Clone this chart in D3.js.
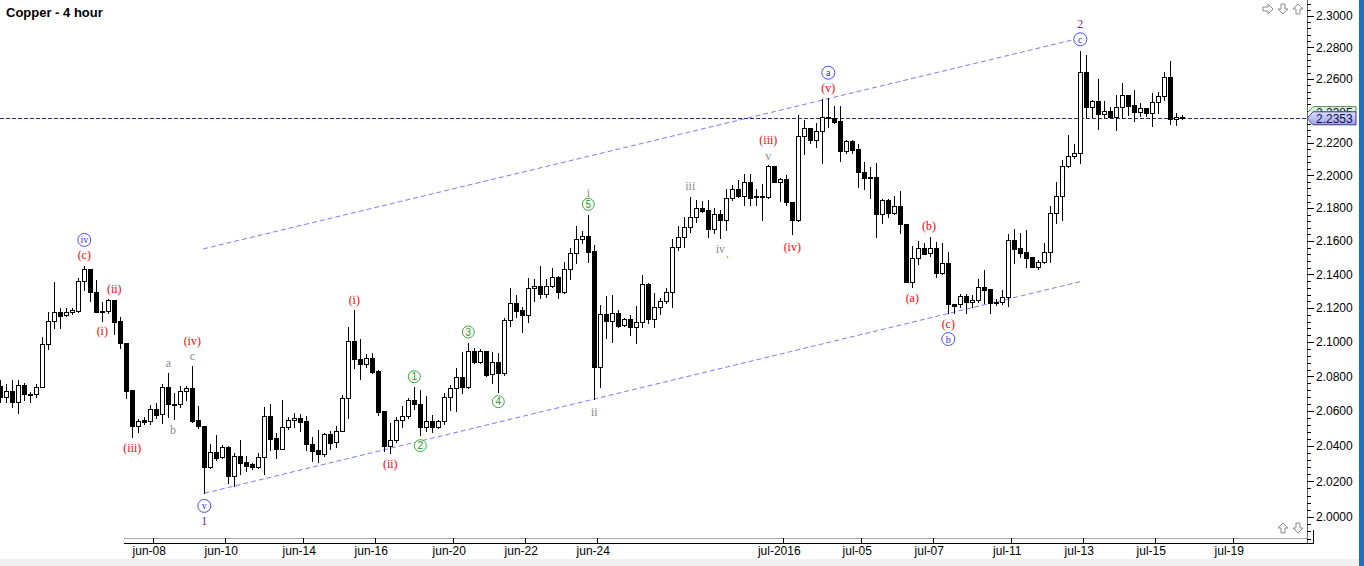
<!DOCTYPE html>
<html><head><meta charset="utf-8">
<script src="https://cdn.jsdelivr.net/npm/d3@7"></script>
<style>html,body{margin:0;padding:0;background:#fff;overflow:hidden}</style>
</head><body>
<svg id="chart" width="1364" height="566"></svg>
<script>
// ---- data (4-hour bars) ----
const open  = [2.0746,2.0683,2.0716,2.0654,2.0750,2.0697,2.0697,2.0737,2.0987,2.1124,2.1175,2.1157,2.1175,2.1185,2.1361,2.1431,2.1294,2.1183,2.1183,2.1248,2.1124,2.0993,2.0721,2.0516,2.0549,2.0541,2.0611,2.0581,2.0737,2.0643,2.0639,2.0717,2.0731,2.0549,2.0514,2.0283,2.0364,2.0336,2.0393,2.0232,2.0344,2.0309,2.0297,2.0279,2.0336,2.0571,2.0446,2.0381,2.0509,2.0547,2.0558,2.0543,2.0411,2.0377,2.0352,2.0467,2.0421,2.0488,2.0673,2.1006,2.0899,2.0870,2.0905,2.0831,2.0600,2.0402,2.0432,2.0547,2.0571,2.0664,2.0641,2.0511,2.0543,2.0507,2.0543,2.0679,2.0731,2.0798,2.0740,2.0950,2.0886,2.0950,2.0812,2.0886,2.0821,2.1130,2.1229,2.1189,2.1159,2.1318,2.1333,2.1282,2.1333,2.1383,2.1298,2.1431,2.1527,2.1611,2.1631,2.1541,2.0856,2.1164,2.1126,2.1170,2.1099,2.1134,2.1087,2.1120,2.1342,2.1134,2.1205,2.1244,2.1294,2.1563,2.1622,2.1684,2.1748,2.1799,2.1788,2.1672,2.1762,2.1727,2.1863,2.1915,2.1876,2.1958,2.1875,2.1873,2.1869,2.2057,2.1961,2.1978,2.1836,2.1727,2.2245,2.2291,2.2218,2.2274,2.2355,2.2353,2.2334,2.2153,2.2212,2.2161,2.2019,2.1988,2.1988,2.1762,2.1849,2.1772,2.1812,2.1702,2.1357,2.1496,2.1557,2.1527,2.1557,2.1407,2.1467,2.1223,2.1223,2.1274,2.1234,2.1248,2.1327,2.1312,2.1238,2.1238,2.1268,2.1607,2.1557,2.1533,2.1504,2.1443,2.1473,2.1533,2.1768,2.1873,2.2057,2.2121,2.2136,2.2642,2.2425,2.2461,2.2378,2.2400,2.2364,2.2422,2.2497,2.2436,2.2395,2.2416,2.2384,2.2452,2.2491,2.2610,2.2347,2.2361];
const high  = [2.0779,2.0755,2.0779,2.0779,2.0760,2.0712,2.0755,2.1032,2.1179,2.1355,2.1199,2.1199,2.1202,2.1377,2.1451,2.1431,2.1367,2.1238,2.1254,2.1248,2.1146,2.0993,2.0721,2.0554,2.0568,2.0635,2.0648,2.0757,2.0821,2.0706,2.0746,2.0746,2.0862,2.0631,2.0514,2.0411,2.0462,2.0406,2.0402,2.0359,2.0434,2.0344,2.0302,2.0362,2.0625,2.0639,2.0472,2.0664,2.0568,2.0587,2.0583,2.0571,2.0449,2.0494,2.0472,2.0488,2.0514,2.0692,2.1091,2.1189,2.1016,2.0930,2.0934,2.0837,2.0600,2.0533,2.0568,2.0629,2.0673,2.0737,2.0721,2.0687,2.0577,2.0549,2.0702,2.0750,2.0847,2.0944,2.0993,2.0964,2.0958,2.0950,2.0944,2.0934,2.1140,2.1318,2.1279,2.1209,2.1377,2.1371,2.1451,2.1371,2.1441,2.1391,2.1476,2.1557,2.1689,2.1661,2.1758,2.1576,2.1219,2.1273,2.1277,2.1189,2.1140,2.1160,2.1212,2.1397,2.1348,2.1288,2.1262,2.1318,2.1611,2.1689,2.1748,2.1870,2.1849,2.1843,2.1849,2.1799,2.1788,2.1915,2.1941,2.1971,2.2009,2.2009,2.1918,2.1949,2.2063,2.2057,2.1982,2.2003,2.1836,2.2374,2.2344,2.2291,2.2326,2.2473,2.2479,2.2431,2.2431,2.2218,2.2218,2.2193,2.2084,2.2053,2.2078,2.1853,2.1853,2.1874,2.1904,2.1702,2.1572,2.1601,2.1591,2.1627,2.1597,2.1591,2.1537,2.1223,2.1284,2.1282,2.1279,2.1373,2.1427,2.1312,2.1252,2.1308,2.1643,2.1671,2.1647,2.1667,2.1504,2.1486,2.1587,2.1812,2.1958,2.2094,2.2252,2.2193,2.2774,2.2752,2.2467,2.2600,2.2461,2.2426,2.2497,2.2572,2.2497,2.2528,2.2447,2.2416,2.2509,2.2519,2.2642,2.2712,2.2388,2.2374];
const low   = [2.0654,2.0654,2.0625,2.0587,2.0664,2.0654,2.0683,2.0737,2.0958,2.1081,2.1085,2.1155,2.1164,2.1179,2.1308,2.1244,2.1179,2.1126,2.1169,2.1046,2.0964,2.0673,2.0450,2.0482,2.0526,2.0526,2.0558,2.0534,2.0568,2.0554,2.0625,2.0664,2.0537,2.0501,2.0133,2.0277,2.0320,2.0334,2.0189,2.0176,2.0241,2.0260,2.0268,2.0274,2.0241,2.0377,2.0334,2.0381,2.0496,2.0511,2.0488,2.0377,2.0313,2.0309,2.0344,2.0381,2.0396,2.0488,2.0562,2.0847,2.0787,2.0853,2.0818,2.0577,2.0373,2.0359,2.0424,2.0511,2.0558,2.0611,2.0462,2.0487,2.0480,2.0501,2.0524,2.0606,2.0602,2.0702,2.0731,2.0876,2.0876,2.0804,2.0763,2.0712,2.0808,2.1096,2.1149,2.1061,2.1120,2.1240,2.1259,2.1268,2.1327,2.1259,2.1288,2.1373,2.1467,2.1587,2.1476,2.0670,2.0740,2.1022,2.1002,2.1091,2.1095,2.1042,2.0996,2.1091,2.1110,2.1087,2.1164,2.1232,2.1205,2.1546,2.1566,2.1657,2.1718,2.1778,2.1623,2.1647,2.1617,2.1667,2.1849,2.1870,2.1816,2.1820,2.1816,2.1727,2.1863,2.1958,2.1846,2.1816,2.1640,2.1723,2.2131,2.2201,2.2173,2.2078,2.2301,2.2322,2.2091,2.2140,2.2140,2.1931,2.1915,2.1860,2.1627,2.1707,2.1748,2.1764,2.1652,2.1353,2.1327,2.1462,2.1522,2.1510,2.1387,2.1403,2.1169,2.1169,2.1209,2.1169,2.1209,2.1234,2.1230,2.1169,2.1220,2.1224,2.1212,2.1467,2.1506,2.1443,2.1443,2.1431,2.1470,2.1473,2.1707,2.1727,2.2053,2.2105,2.2075,2.2353,2.2359,2.2287,2.2359,2.2353,2.2277,2.2353,2.2374,2.2337,2.2368,2.2368,2.2307,2.2384,2.2470,2.2315,2.2311,2.2347];
const close = [2.0683,2.0716,2.0654,2.0750,2.0697,2.0695,2.0737,2.0987,2.1124,2.1175,2.1155,2.1175,2.1189,2.1361,2.1431,2.1294,2.1179,2.1175,2.1248,2.1120,2.0993,2.0717,2.0516,2.0543,2.0539,2.0611,2.0577,2.0737,2.0639,2.0635,2.0717,2.0733,2.0543,2.0512,2.0283,2.0364,2.0334,2.0393,2.0232,2.0344,2.0306,2.0285,2.0279,2.0336,2.0571,2.0442,2.0381,2.0509,2.0547,2.0558,2.0539,2.0410,2.0373,2.0352,2.0467,2.0419,2.0488,2.0673,2.1006,2.0899,2.0870,2.0905,2.0827,2.0596,2.0402,2.0432,2.0547,2.0571,2.0664,2.0639,2.0511,2.0543,2.0507,2.0543,2.0679,2.0731,2.0798,2.0740,2.0950,2.0886,2.0950,2.0808,2.0886,2.0821,2.1130,2.1229,2.1185,2.1159,2.1318,2.1333,2.1282,2.1333,2.1383,2.1298,2.1431,2.1527,2.1611,2.1631,2.1537,2.0856,2.1164,2.1126,2.1170,2.1095,2.1134,2.1087,2.1120,2.1342,2.1134,2.1205,2.1244,2.1294,2.1563,2.1622,2.1684,2.1748,2.1799,2.1784,2.1672,2.1762,2.1727,2.1863,2.1915,2.1876,2.1958,2.1863,2.1867,2.1867,2.2057,2.1961,2.1978,2.1836,2.1727,2.2245,2.2291,2.2218,2.2274,2.2359,2.2359,2.2328,2.2153,2.2212,2.2157,2.2019,2.1982,2.1982,2.1762,2.1849,2.1772,2.1812,2.1702,2.1357,2.1496,2.1557,2.1522,2.1557,2.1407,2.1467,2.1223,2.1215,2.1274,2.1234,2.1248,2.1327,2.1308,2.1232,2.1238,2.1268,2.1607,2.1553,2.1531,2.1501,2.1443,2.1473,2.1533,2.1768,2.1873,2.2057,2.2121,2.2136,2.2642,2.2425,2.2461,2.2378,2.2400,2.2364,2.2422,2.2497,2.2432,2.2395,2.2416,2.2384,2.2452,2.2491,2.2610,2.2347,2.2364,2.2353];

// x-axis: day boundaries (in bar units) and labels
const dayTickBars   = [25.5,37.5,50.5,62.5,75.5,87.5,99.5,130.5,143.5,155.5,168.5,180.5,192.5,205.5];
const dayTickLabels = ["jun-08","jun-10","jun-14","jun-16","jun-20","jun-22","jun-24","jul-2016","jul-05","jul-07","jul-11","jul-13","jul-15","jul-19"];

// y-axis
const priceTicks = d3.range(0, 16).map(k => 2.0 + k * 0.02);
const minorTicks = d3.range(496, 578).map(k => k * 0.004);
const lastPrice = 2.2353;
const prevPrice = 2.2385;

// channel lines (bar index, price)
const upperChannel = [{i:33.8, p:2.1553}, {i:178.6, p:2.2846}];
const lowerChannel = [{i:34.0, p:2.0133}, {i:179.95, p:2.1357}];

// Elliott wave labels (bar index, price, text, kind)
const waveBars   = [14,14,19,17,22,28,28.8,32,32,34,34,59,65,69,70,78,83,98,98,99,115,120,121.2,128,128,132,138,138,154.8,152,158,158,180,180];
const wavePrices = [2.1607,2.1517,2.1312,2.1065,2.0387,2.0880,2.0491,2.0920,2.1006,2.0062,1.9978,2.1252,2.0297,2.0798,2.0402,2.1059,2.0654,2.1823,2.1896,2.0596,2.1937,2.1551,2.1523,2.2121,2.2218,2.1568,2.2639,2.2547,2.1693,2.1264,2.1105,2.1018,2.2949,2.2851];
const waveTexts  = ["iv","(c)","(ii)","(i)","(iii)","a","b","c","(iv)","v","1","(i)","(ii)","1","2","3","4","5","i","ii","iii","iv",",","v","(iii)","(iv)","a","(v)","(b)","(a)","(c)","b","2","c"];
const waveKinds  = ["blue","red","red","red","red","gray","gray","gray","red","blue","purple","red","red","green","green","green","green","green","gray","gray","gray","gray","orange","gray","red","red","blue","red","red","red","red","blue","purple","blue"];

// ---- drawing ----
const svg = d3.select("#chart");
const n = open.length;
const x = d3.scaleLinear().domain([0, n - 1]).range([0.3, 1182.3]);
const y = d3.scaleLog().domain([2.0, 2.3]).range([517, 16]);
const plotRight = 1307, plotBottom = 538;

svg.append("rect").attr("x",0).attr("y",0).attr("width",1364).attr("height",566).attr("fill","#fff");
svg.append("rect").attr("x",0).attr("y",559).attr("width",1364).attr("height",7).attr("fill","#f0f0f0");
svg.append("rect").attr("x",1359).attr("y",0).attr("width",5).attr("height",566).attr("fill","#1f6fc0");

const defs = svg.append("defs");
defs.append("clipPath").attr("id","plotclip")
  .append("rect").attr("x",0).attr("y",0).attr("width",plotRight).attr("height",plotBottom);
const plot = svg.append("g").attr("clip-path","url(#plotclip)");

// channel lines
const lineGen = d3.line().x(d => x(d.i)).y(d => y(d.p));
[upperChannel, lowerChannel].forEach(c => {
  plot.append("path").attr("d", lineGen(c)).attr("fill","none")
    .attr("stroke","#7b7bff").attr("stroke-width",1).attr("stroke-dasharray","5,3");
});

// last price line
plot.append("line").attr("x1",0).attr("x2",plotRight)
  .attr("y1",Math.round(y(lastPrice))+0.5).attr("y2",Math.round(y(lastPrice))+0.5)
  .attr("stroke","#2c2c70").attr("stroke-width",1).attr("stroke-dasharray","4,2");

// candles
const idx = d3.range(n);
const cg = plot.append("g").attr("shape-rendering","crispEdges");
const cx = i => Math.round(x(i)) + 0.5;
cg.selectAll("line.wick").data(idx).join("line").attr("class","wick")
  .attr("x1", cx).attr("x2", cx)
  .attr("y1", i => Math.round(y(high[i]))).attr("y2", i => Math.round(y(low[i])) + 1)
  .attr("stroke","#000").attr("stroke-width",1);
cg.selectAll("rect.body").data(idx).join("rect").attr("class","body")
  .attr("x", i => cx(i) - 2)
  .attr("width", 4)
  .attr("y", i => Math.round(y(Math.max(open[i], close[i]))) + 0.5)
  .attr("height", i => Math.max(1, Math.round(y(Math.min(open[i], close[i]))) - Math.round(y(Math.max(open[i], close[i])))))
  .attr("fill", i => close[i] >= open[i] ? "#fff" : "#000")
  .attr("stroke","#000").attr("stroke-width",1);

// wave labels
const colors = {red:"#ff0000", gray:"#8a8a8a", green:"#2a9a2a", blue:"#2a2aff", purple:"#8b1a8b", orange:"#cc8a00"};
const wg = plot.append("g");
waveTexts.forEach((t, k) => {
  const kind = waveKinds[k];
  const px = x(waveBars[k]), py = y(wavePrices[k]);
  if (kind === "blue" || kind === "green") {
    wg.append("circle").attr("cx", px).attr("cy", py).attr("r", kind === "blue" ? 6.5 : 6)
      .attr("fill","#fff").attr("stroke", kind === "blue" ? "#4a4aff" : "#3aaa3a").attr("stroke-width",1);
    wg.append("text").attr("x", px).attr("y", py).attr("dy","0.35em").attr("text-anchor","middle")
      .attr("font-family", kind === "blue" ? "Liberation Serif, serif" : "Liberation Sans, Arial, sans-serif")
      .attr("font-size", 10).attr("fill", colors[kind]).text(t);
  } else {
    wg.append("text").attr("x", px).attr("y", py).attr("dy","0.35em").attr("text-anchor","middle")
      .attr("font-family","Liberation Serif, serif")
      .attr("font-size", kind === "orange" ? 10 : 12).attr("fill", colors[kind]).text(t);
  }
});

// y axis
svg.append("line").attr("x1",plotRight+0.5).attr("x2",plotRight+0.5).attr("y1",0).attr("y2",543)
  .attr("stroke","#666").attr("stroke-width",1);
const ya = svg.append("g").attr("shape-rendering","crispEdges");
ya.selectAll("line.minor").data(minorTicks.filter(v => y(v) >= 0 && y(v) <= 543)).join("line")
  .attr("x1",plotRight).attr("x2",plotRight+4)
  .attr("y1", v => Math.round(y(v))+0.5).attr("y2", v => Math.round(y(v))+0.5)
  .attr("stroke","#000");
ya.selectAll("line.major").data(priceTicks).join("line")
  .attr("x1",plotRight).attr("x2",plotRight+7)
  .attr("y1", v => Math.round(y(v))+0.5).attr("y2", v => Math.round(y(v))+0.5)
  .attr("stroke","#000");
svg.append("g").selectAll("text").data(priceTicks).join("text")
  .attr("x", 1316).attr("y", v => y(v)).attr("dy","0.36em")
  .attr("font-family","Liberation Sans, Arial, sans-serif").attr("font-size",12).attr("fill","#000")
  .text(v => v.toFixed(4));

// price labels
function priceTag(p, fillTop, fillBot, stroke, id, txt, clipBottom) {
  const yy = y(p);
  const grad = defs.append("linearGradient").attr("id", id).attr("x1",0).attr("y1",0).attr("x2",0).attr("y2",1);
  grad.append("stop").attr("offset","0").attr("stop-color", fillTop);
  grad.append("stop").attr("offset","1").attr("stop-color", fillBot);
  const pts = [[plotRight, yy], [plotRight+6, yy-6.5], [1356, yy-6.5], [1356, yy+6.5], [plotRight+6, yy+6.5]];
  const g = svg.append("g");
  if (clipBottom != null) {
    defs.append("clipPath").attr("id", id + "clip").append("rect")
      .attr("x", plotRight - 1).attr("y", yy - 8).attr("width", 52).attr("height", clipBottom - (yy - 8));
    g.attr("clip-path", `url(#${id}clip)`);
  }
  g.append("path").attr("d", "M" + pts.join("L") + "Z").attr("fill", `url(#${id})`).attr("stroke", stroke).attr("stroke-width",1);
  g.append("text").attr("x", 1316).attr("y", yy).attr("dy","0.36em")
    .attr("font-family","Liberation Sans, Arial, sans-serif").attr("font-size",12).attr("fill","#10103a").text(txt);
}
priceTag(prevPrice, "#e4fbe0", "#a8e0a0", "#5a8a5a", "gtag", prevPrice.toFixed(4), y(lastPrice) - 6);
priceTag(lastPrice, "#dcdcff", "#9ea2f2", "#3a3a80", "btag", lastPrice.toFixed(4), null);

// x axis
const xa = svg.append("g").attr("shape-rendering","crispEdges");
xa.append("line").attr("x1",124).attr("x2",plotRight).attr("y1",plotBottom+0.5).attr("y2",plotBottom+0.5).attr("stroke","#a8a8a0");
xa.append("line").attr("x1",124).attr("x2",1313).attr("y1",543.5).attr("y2",543.5).attr("stroke","#000");
xa.append("line").attr("x1",1313.5).attr("x2",1313.5).attr("y1",530).attr("y2",543.5).attr("stroke","#000");
xa.selectAll("line.tick").data(dayTickBars).join("line")
  .attr("x1", b => Math.round(x(b))+0.5).attr("x2", b => Math.round(x(b))+0.5)
  .attr("y1", plotBottom).attr("y2", 543).attr("stroke","#000");
svg.append("g").selectAll("text").data(dayTickBars).join("text")
  .attr("x", b => x(b) - 4).attr("y", 555).attr("text-anchor","middle")
  .attr("font-family","Liberation Sans, Arial, sans-serif").attr("font-size",12).attr("fill","#000")
  .text((b, k) => dayTickLabels[k]);

// title
svg.append("text").attr("x",6).attr("y",17).attr("font-family","Liberation Sans, Arial, sans-serif")
  .attr("font-weight","bold").attr("font-size",13).attr("fill","#000").text("Copper - 4 hour");

// small arrow icons
const arrowPath = "M-5,-2L0,-2L0,-5L5,0L0,5L0,2L-5,2Z";
[[1268,9,0],[1283,9,90],[1298,9,-90],[1283,528,-90],[1298,528,90]].forEach(a => {
  svg.append("path").attr("d", arrowPath).attr("transform", `translate(${a[0]},${a[1]}) rotate(${a[2]})`)
    .attr("fill","#fff").attr("stroke","#8a8a8a").attr("stroke-width",1);
});
</script>
</body></html>
